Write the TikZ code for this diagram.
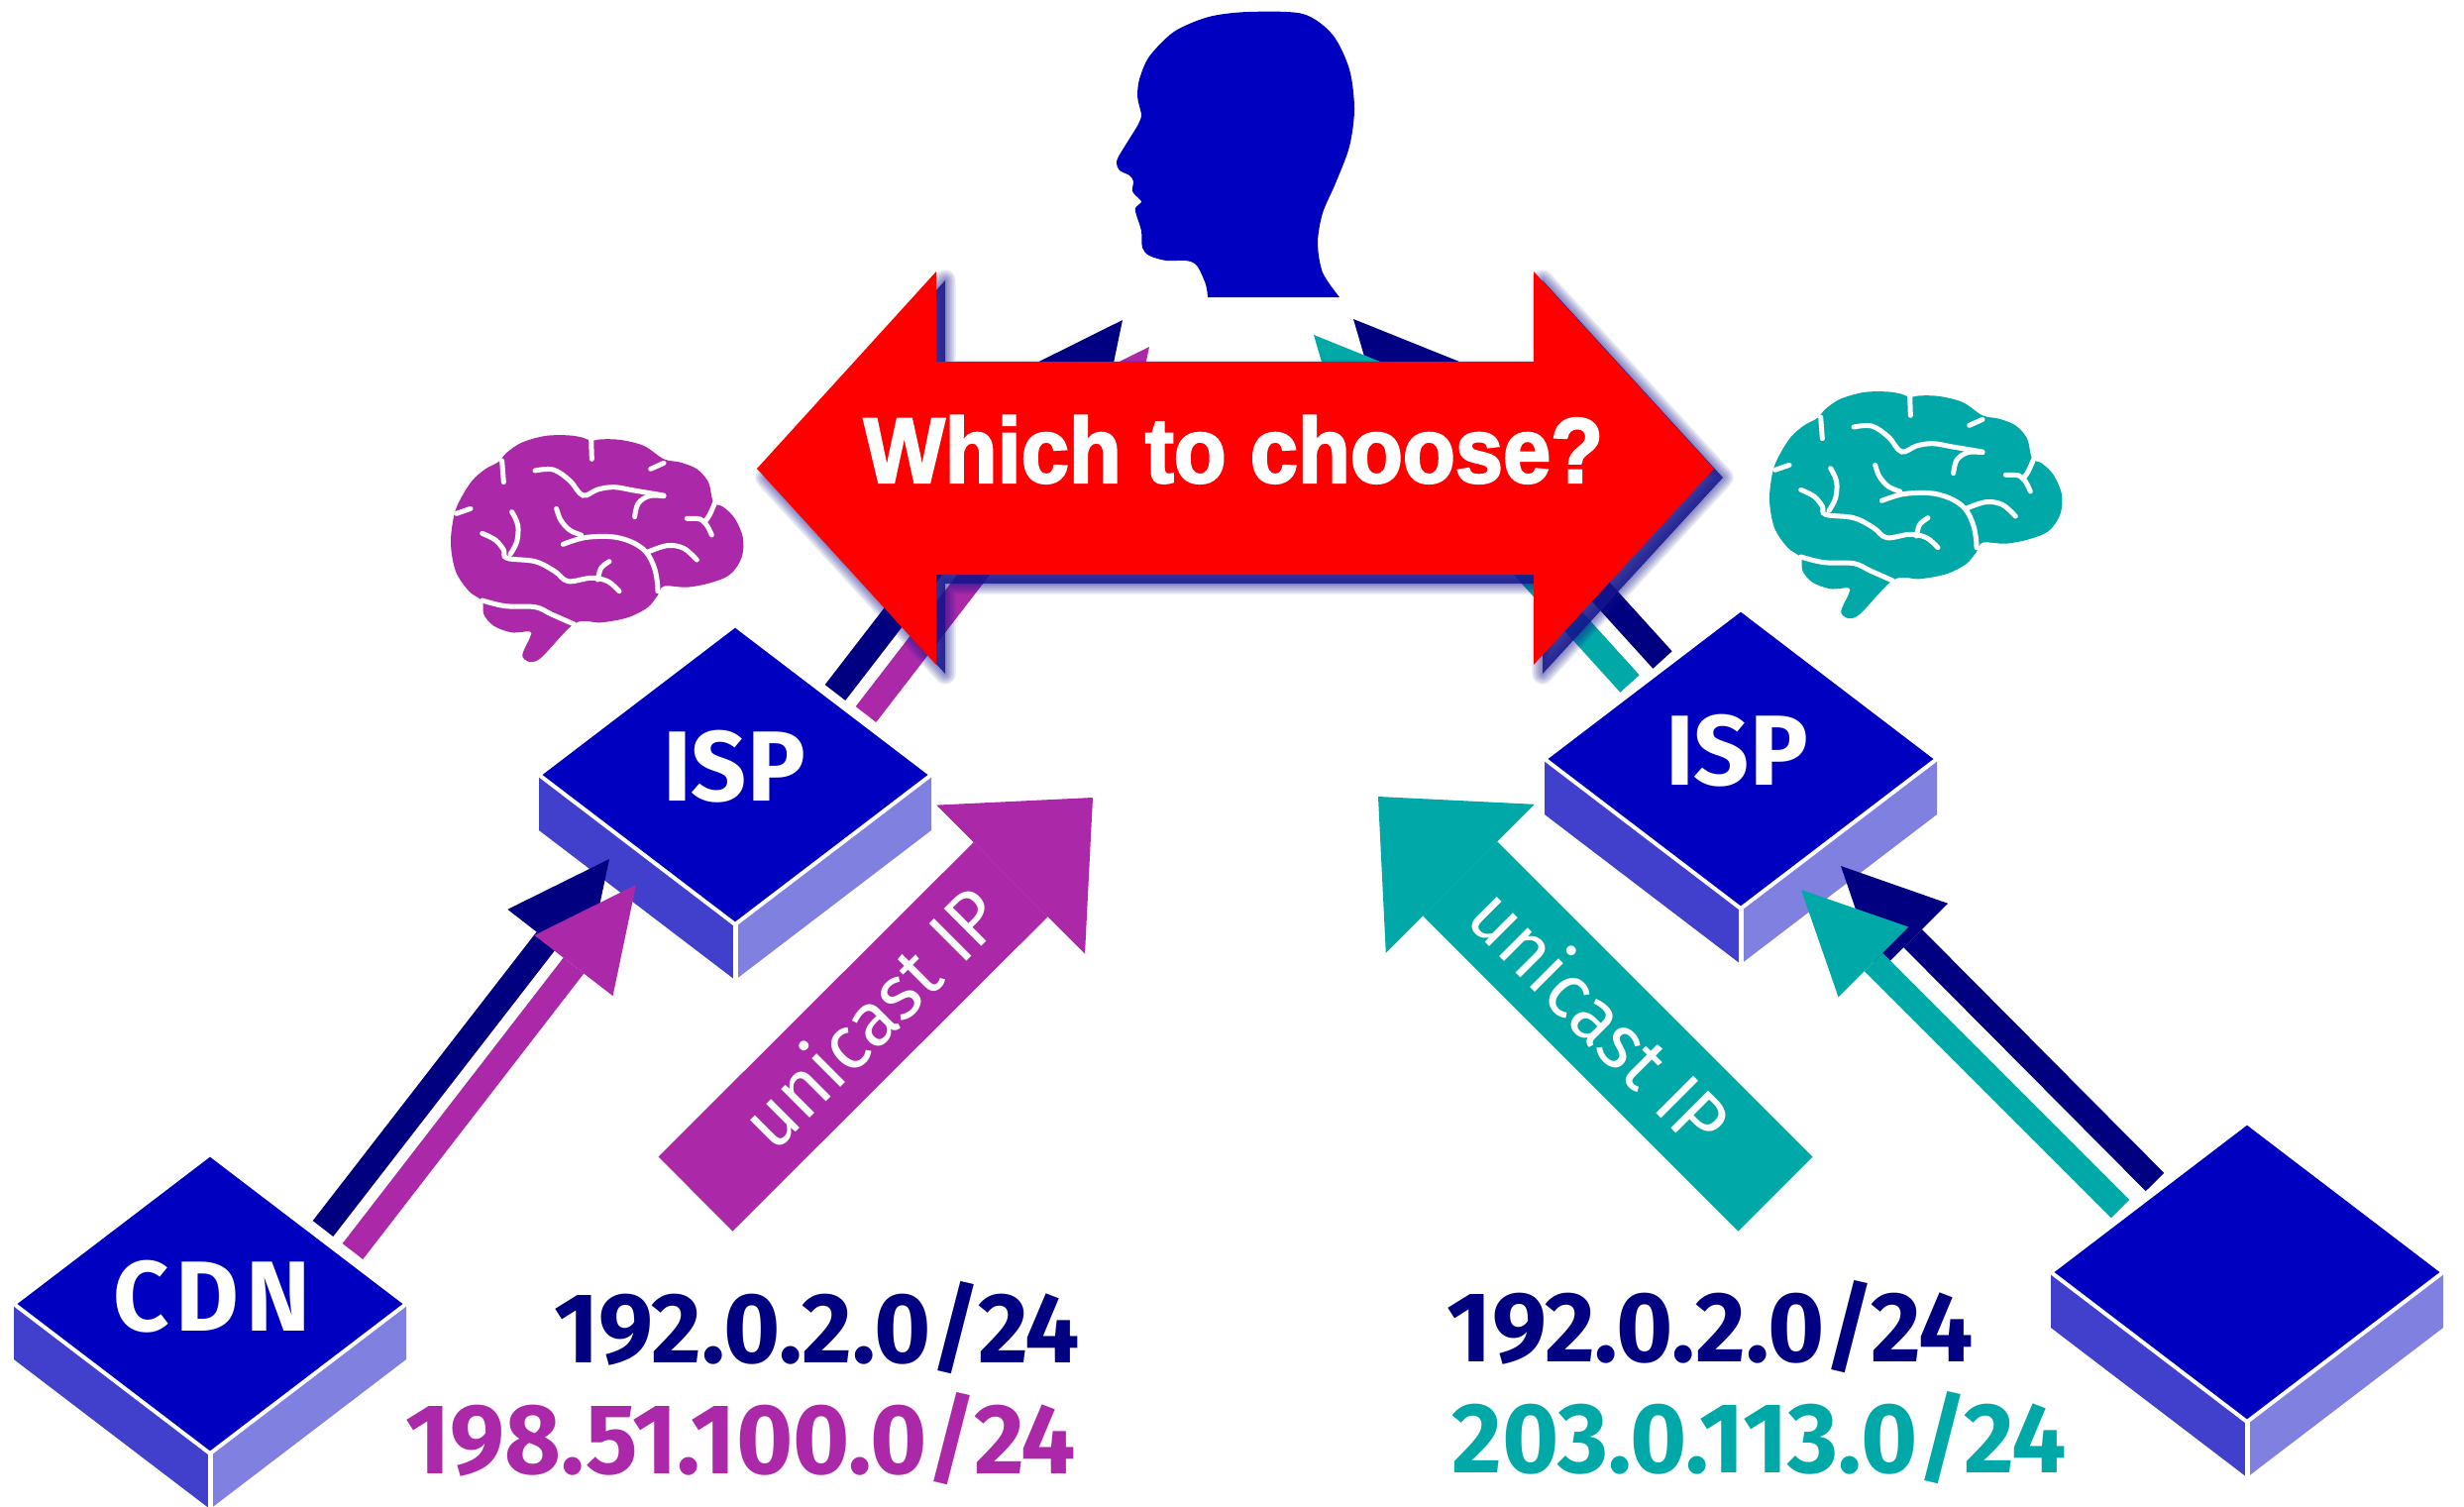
\documentclass[tikz,border=0pt]{standalone}
\usepackage{fontspec}
\usetikzlibrary{arrows.meta}

\newfontfamily\dinfont{Fira Sans}[FakeStretch=0.975]
\newfontfamily\bannerfont{Liberation Sans}[FakeStretch=0.93,FakeBold=2.5]

\definecolor{slabtop}{RGB}{0,0,192}
\definecolor{slableft}{RGB}{64,64,204}
\definecolor{slabright}{RGB}{128,128,224}
\definecolor{linknavy}{RGB}{0,0,128}
\definecolor{cdnpurple}{RGB}{171,41,168}
\definecolor{ispteal}{RGB}{0,168,168}
\definecolor{glowblue}{RGB}{20,20,140}

\tikzset{
  sulcus/.style={white,line width=0.05cm,line cap=round},
  pics/slab/.style={code={
    \fill[slableft] (-198,0) -- (0,151) -- (0,207) -- (-198,56) -- cycle;
    \fill[slabright] (198,0) -- (0,151) -- (0,207) -- (198,56) -- cycle;
    \draw[white,line width=0.05cm] (0,151) -- (0,207);
    \filldraw[fill=slabtop,draw=white,line width=0.04cm,line join=round]
      (-198,0) -- (0,-151) -- (198,0) -- (0,151) -- cycle;
  }},
  pics/brain/.style={code={
    \begin{scope}[scale=1/3]
    \fill[#1] plot[smooth cycle,tension=0.55] coordinates {
      (45,385) (55,300) (75,250) (110,195) (150,160) (190,138) (215,110)
      (260,80) (330,60) (400,58) (445,65) (470,75) (500,70) (560,72)
      (630,90) (690,130) (740,140) (790,160) (825,200) (840,260) (870,275)
      (905,310) (930,370) (925,430) (890,480) (830,505) (760,518) (690,515)
      (670,545) (640,580) (580,610) (500,625) (420,628) (310,738) (262,728)
      (285,670) (285,652) (230,655) (175,635) (145,600) (140,560) (100,530)
      (60,470)};
    \draw[sulcus] (200,135) -- (205,200);
    \draw[sulcus] (62,295) -- (105,280);
    \draw[sulcus] (470,70) -- (472,130);
    \draw[sulcus] (650,160) -- (690,142);
    \draw[sulcus] plot[smooth,tension=0.6] coordinates {
      (300,165) (355,162) (405,195) (445,240) (490,222) (540,215) (600,225) (690,240)};
    \draw[sulcus] plot[smooth,tension=0.6] coordinates {
      (690,242) (645,242) (612,265) (602,305)};
    \draw[sulcus] plot[smooth,tension=0.6] coordinates {
      (760,310) (800,312) (820,330) (835,360)};
    \draw[sulcus] plot[smooth,tension=0.6] coordinates {
      (845,262) (828,300) (812,322)};
    \draw[sulcus] plot[smooth,tension=0.6] coordinates {
      (365,280) (378,315) (405,345) (440,360)};
    \draw[sulcus] plot[smooth,tension=0.6] coordinates {
      (385,388) (450,368) (530,365) (590,380) (635,410) (660,455) (670,500) (672,530)};
    \draw[sulcus] plot[smooth,tension=0.6] coordinates {
      (640,412) (700,392) (750,400) (790,435)};
    \draw[sulcus] plot[smooth,tension=0.6] coordinates {
      (230,290) (248,330) (245,380) (225,418)};
    \draw[sulcus] plot[smooth,tension=0.6] coordinates {
      (140,355) (180,375) (205,405) (215,430) (300,440) (360,470) (400,500)
      (470,490) (520,500) (555,530)};
    \draw[sulcus] plot[smooth,tension=0.6] coordinates {
      (490,495) (500,460) (525,440)};
    \draw[sulcus] plot[smooth,tension=0.6] coordinates {
      (140,558) (210,575) (300,578) (350,600) (418,630)};
    \end{scope}
  }},
}

\begin{document}
\begin{tikzpicture}[x=0.01cm,y=-0.01cm,
  link/.style={line width=0.26cm,draw=#1,-{Triangle[width=1cm,length=1.03cm,line width=0pt]}},
  fat/.style={line width=1.06cm,draw=#1,-{Triangle[width=2.12cm,length=1.17cm,line width=0pt]}},
  slabtext/.style={font=\dinfont\bfseries\fontsize{28.6}{32}\selectfont,text=white,inner sep=0pt,anchor=base},
  netblock/.style={font=\dinfont\bfseries\fontsize{28.6}{32}\selectfont,text=#1,inner sep=0pt},
  fattext/.style={font=\dinfont\fontsize{22}{25}\selectfont,text=white,inner sep=0pt},
  glow/.style={draw=glowblue,opacity=0.1,line join=round},
  choosepath/.style={insert path={(764,473) -- (945,274) -- (945,365) -- (1548,365)
    -- (1548,274) -- (1730,473) -- (1548,671) -- (1548,580) -- (945,580)
    -- (945,671) -- cycle}}]
\useasboundingbox (0,0) rectangle (2487,1520);

% brains
\pic at (440,420) {brain=cdnpurple};
\pic at (1771,376) {brain=ispteal};

% the four platforms
\coordinate (CDN) at (212,1316);
\coordinate (ISPL) at (742,782);
\coordinate (ISPR) at (1757,766);
\coordinate (ORG) at (2268,1284);
\foreach \p in {CDN,ISPL,ISPR,ORG}
	\pic at (\p) {slab};

% announcements, bottom row
\coordinate (cdnN) at (326,1240);
\coordinate (cdnP) at (356,1263);
\coordinate (ispLN) at (615,867);
\coordinate (ispLP) at (642,893);
\coordinate (orgN) at (2175,1193);
\coordinate (orgT) at (2140,1220);
\coordinate (ispRN) at (1858,874);
\coordinate (ispRT) at (1818,898);

\draw[link=linknavy] (cdnN) -- (ispLN);
\draw[link=cdnpurple] (cdnP) -- (ispLP);
\draw[link=linknavy] (orgN) -- (ispRN);
\draw[link=ispteal] (orgT) -- (ispRT);

% unicast arrows
\coordinate (uniLs) at (702,1205);
\coordinate (uniLe) at (1103,805);
\coordinate (uniRs) at (1792,1205);
\coordinate (uniRe) at (1391,804);
\draw[fat=cdnpurple] (uniLs) -- (uniLe);
\draw[fat=ispteal] (uniRs) -- (uniRe);
\node (uniL) at (878,1026) [fattext,rotate=45] {unicast IP};
\node (uniR) at (1616,1026) [fattext,rotate=-45] {unicast IP};

% the user
\fill[slabtop] plot[smooth,tension=0.5] coordinates {
	(1219,300) (1217,287) (1208,268) (1197,263) (1177,263) (1160,258)
	(1153,250) (1152,233) (1147,217) (1146,210) (1152,204) (1150,201)
	(1143,193) (1144,183) (1140,177) (1130,172) (1127,165) (1129,158)
	(1140,140) (1148,127) (1152,117) (1150,107) (1148,97) (1150,80)
	(1160,57) (1185,32) (1220,17) (1260,12) (1315,14) (1345,35) (1362,70)
	(1367,110) (1362,148) (1348,185) (1335,215) (1330,245) (1335,275) (1352,300)}
	-- cycle;

% routes up to the user
\coordinate (ispLtopN) at (843,699);
\coordinate (ispLtopP) at (874,721);
\coordinate (userLN) at (1133,323);
\coordinate (userLP) at (1160,350);
\coordinate (ispRtopN) at (1678,666);
\coordinate (ispRtopT) at (1645,690);
\coordinate (userRN) at (1366,322);
\coordinate (userRT) at (1326,338);

\draw[link=linknavy] (ispLtopN) -- (userLN);
\draw[link=cdnpurple] (ispLtopP) -- (userLP);
\draw[link=linknavy] (ispRtopN) -- (userRN);
\draw[link=ispteal] (ispRtopT) -- (userRT);

% double arrow with its soft shadow
\foreach \w in {6,5,...,1}
	\draw[shift={(9,9)},glow,line width=\w pt,choosepath];
\fill[shift={(9,9)},glowblue,opacity=0.85,choosepath];
\fill[red,choosepath];
\node (choose) at (1245,487) [anchor=base,inner sep=0pt,text=white,
	font=\bannerfont\bfseries\fontsize{26.5}{30}\selectfont] {Which to choose?};

% labels
\node (cdn) at (214,1343) [slabtext] {\addfontfeature{LetterSpace=7}CDN};
\node (ispl) at (741,808) [slabtext] {ISP};
\node (ispr) at (1753,792) [slabtext] {ISP};

\node (netL1) at (1091,1375) [netblock=linknavy,anchor=base east] {192.0.2.0/24};
\node (netL2) at (1087,1487) [netblock=cdnpurple,anchor=base east] {198.51.100.0/24};
\node (netR1) at (1460,1374) [netblock=linknavy,anchor=base west] {192.0.2.0/24};
\node (netR2) at (1465,1486) [netblock=ispteal,anchor=base west] {203.0.113.0/24};

\end{tikzpicture}
\end{document}
